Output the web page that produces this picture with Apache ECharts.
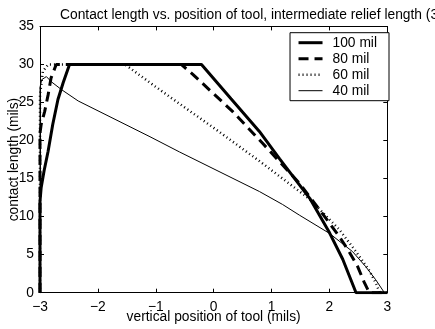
<!DOCTYPE html>
<html>
<head>
<meta charset="utf-8">
<script src="https://cdn.jsdelivr.net/npm/echarts@6/dist/echarts.min.js"></script>
<style>
html,body{margin:0;padding:0;background:#fff;}
#chart{width:435px;height:329px;}
</style>
</head>
<body>
<div id="chart"></div>
<script>
const titleText = "Contact length vs. position of tool, intermediate relief length (3 mils)";
const xLabel = "vertical position of tool (mils)";
const yLabel = "contact length (mils)";
const seriesNames = ["100 mil", "80 mil", "60 mil", "40 mil"];

const x100 = [-3, -3, -2.98, -2.93, -2.86, -2.78, -2.69, -2.60, -2.49, -0.21, 0.30, 0.79, 1.14, 1.66, 2.00, 2.23, 2.46, 3];
const y100 = [0, 12, 13.8, 16.0, 18.6, 22.1, 25.4, 27.6, 30, 30, 25.5, 21.2, 17.6, 12.4, 7.9, 4.4, 0, 0];

const x80 = [-3, -3, -2.98, -2.92, -2.86, -2.81, -2.72, -0.56, -0.36, 0.33, 0.85, 1.48, 1.83, 2.17, 2.34, 2.49, 2.60, 2.69, 3];
const y80 = [0, 21, 22.1, 23.8, 26.0, 28.2, 30, 30, 28.7, 23.8, 19.6, 14.4, 10.9, 7.4, 5.4, 3.4, 1.4, 0, 0];

const x60 = [-3, -3, -2.95, -2.86, -1.53, -1.10, -0.64, 0.05, 0.79, 1.19, 1.66, 2.17, 2.46, 2.69, 2.80, 2.87, 3];
const y60 = [0, 26, 29.1, 30, 30, 27.6, 25.1, 21.4, 17.3, 15.0, 12.3, 8.3, 5.4, 2.9, 1.3, 0, 0];

const x40 = [-3, -3, -2.97, -2.89, -2.80, -2.63, -2.34, -1.10, -0.59, 0.79, 1.19, 1.48, 2.00, 2.40, 2.63, 2.80, 2.95, 3];
const y40 = [0, 27, 28.0, 28.4, 27.7, 26.7, 25.2, 20.5, 18.5, 13.3, 11.6, 10.2, 7.8, 5.4, 3.4, 1.7, 0, 0];

const xTicks = [-3, -2, -1, 0, 1, 2, 3];
const yTicks = [0, 5, 10, 15, 20, 25, 30, 35];

function zip(xs, ys) { return xs.map((x, i) => [x, ys[i]]); }

const FONT = "'Liberation Sans', Arial, Helvetica, sans-serif";
const FS = 13.8;
const fmtNum = v => String(v).replace('-', '\u2212');

const chart = echarts.init(document.getElementById('chart'), null, {renderer: 'canvas'});

const styles = [
  {width: 3, type: 'solid'},
  {width: 3, type: [10, 6]},
  {width: 2.5, type: [1, 3]},
  {width: 1, type: 'solid'}
];
const datas = [zip(x100, y100), zip(x80, y80), zip(x60, y60), zip(x40, y40)];

const baseAxisLine = {show: true, onZero: false, lineStyle: {color: '#000', width: 1}};
const baseTick = {show: true, inside: true, length: 4, lineStyle: {color: '#000', width: 1}};

chart.setOption({
  animation: false,
  backgroundColor: '#fff',
  title: {
    text: titleText,
    left: 60, top: 8, padding: 0,
    textStyle: {fontFamily: FONT, fontSize: FS, fontWeight: 'normal', color: '#000'}
  },
  grid: {left: 40, right: 47.7, top: 26.4, bottom: 36.3, containLabel: false, outerBoundsMode: 'none'},
  legend: {
    data: seriesNames,
    orient: 'vertical',
    right: 46, top: 32.7,
    backgroundColor: '#fff',
    borderColor: '#000', borderWidth: 1,
    padding: [3, 12, 3, 7],
    itemWidth: 24, itemHeight: 14, itemGap: 2,
    itemStyle: {opacity: 0},
    lineStyle: {width: 'inherit'},
    textStyle: {fontFamily: FONT, fontSize: FS, color: '#000', padding: [0, 0, 0, 5]}
  },
  xAxis: [{
    type: 'value', min: -3, max: 3, interval: 1, position: 'bottom',
    name: xLabel, nameLocation: 'middle', nameGap: 17, nameMoveOverlap: false,
    nameTextStyle: {fontFamily: FONT, fontSize: FS, color: '#000'},
    axisLine: baseAxisLine, axisTick: baseTick,
    axisLabel: {fontFamily: FONT, fontSize: FS, color: '#000', margin: 7, formatter: fmtNum},
    splitLine: {show: false}
  }, {
    type: 'value', min: -3, max: 3, interval: 1, position: 'top',
    axisLine: baseAxisLine, axisTick: baseTick, axisLabel: {show: false}, splitLine: {show: false}
  }],
  yAxis: [{
    type: 'value', min: 0, max: 35, interval: 5, position: 'left',
    name: yLabel, nameLocation: 'middle', nameGap: 19, nameMoveOverlap: false,
    nameTextStyle: {fontFamily: FONT, fontSize: FS, color: '#000'},
    axisLine: baseAxisLine, axisTick: baseTick,
    axisLabel: {fontFamily: FONT, fontSize: FS, color: '#000', margin: 6, formatter: fmtNum},
    splitLine: {show: false}
  }, {
    type: 'value', min: 0, max: 35, interval: 5, position: 'right',
    axisLine: baseAxisLine, axisTick: baseTick, axisLabel: {show: false}, splitLine: {show: false}
  }],
  series: seriesNames.map((name, i) => ({
    name: name,
    type: 'line',
    data: datas[i],
    xAxisIndex: 0, yAxisIndex: 0,
    symbol: 'none',
    showSymbol: false,
    smooth: false,
    clip: true,
    color: '#000',
    itemStyle: {opacity: 0},
    lineStyle: {color: '#000', width: styles[i].width, type: styles[i].type},
    z: 10 - i
  }))
});
</script>
</body>
</html>
